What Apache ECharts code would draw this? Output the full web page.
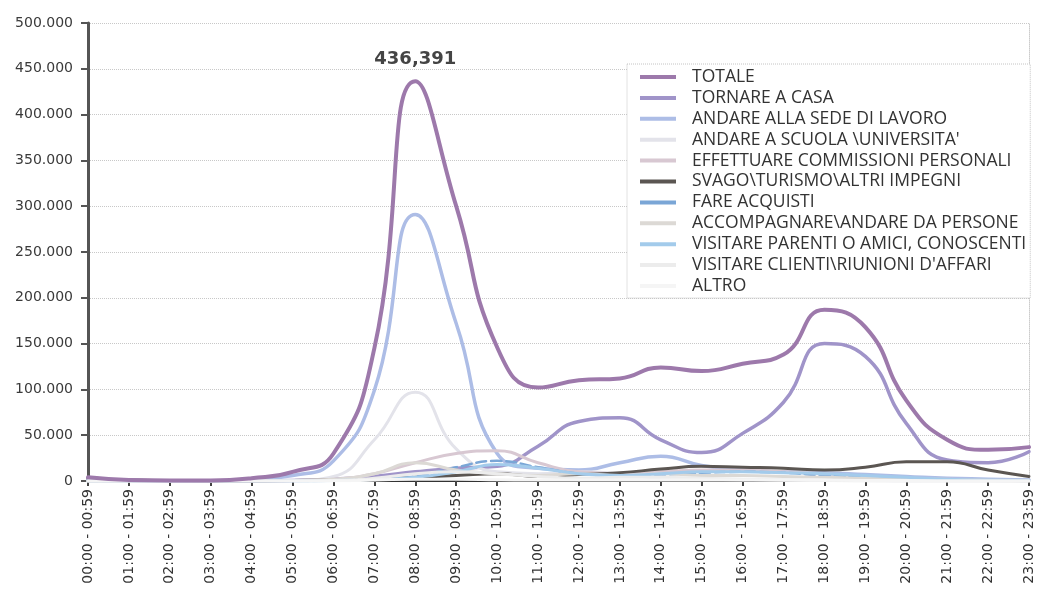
<!DOCTYPE html>
<html>
<head>
<meta charset="utf-8">
<script src="https://cdn.jsdelivr.net/npm/echarts@6/dist/echarts.min.js"></script>
<style>
  html, body { margin: 0; padding: 0; background: #ffffff; }
  #chart { width: 1037px; height: 599px; }
</style>
</head>
<body>
<div id="chart"></div>
<script>
// Hourly time slots
const fasce = [
  '00:00 - 00:59', '01:00 - 01:59', '02:00 - 02:59', '03:00 - 03:59',
  '04:00 - 04:59', '05:00 - 05:59', '06:00 - 06:59', '07:00 - 07:59',
  '08:00 - 08:59', '09:00 - 09:59', '10:00 - 10:59', '11:00 - 11:59',
  '12:00 - 12:59', '13:00 - 13:59', '14:00 - 14:59', '15:00 - 15:59',
  '16:00 - 16:59', '17:00 - 17:59', '18:00 - 18:59', '19:00 - 19:59',
  '20:00 - 20:59', '21:00 - 21:59', '22:00 - 22:59', '23:00 - 23:59'
];

// Trips per hour, by purpose
const totale        = [4000, 1000, 500, 500, 3000, 10000, 30000, 145000, 436391, 300000, 146000, 102000, 110000, 112000, 124000, 120000, 128000, 138000, 187000, 168000, 88000, 45000, 34000, 37000];
const tornareCasa   = [2000, 500, 0, 0, 0, 500, 2000, 5000, 10000, 14000, 16000, 38000, 65000, 69000, 45000, 31000, 52000, 86000, 150000, 136000, 63000, 23000, 20000, 32000];
const sedeLavoro    = [1000, 500, 0, 0, 2000, 6000, 22000, 99000, 291000, 172000, 30000, 14000, 12000, 20000, 27000, 17000, 12000, 10000, 9000, 7000, 5000, 3000, 2000, 1000];
const scuola        = [0, 0, 0, 0, 0, 500, 5000, 45000, 97000, 35000, 10000, 8000, 10000, 8000, 3000, 2000, 1500, 1000, 500, 500, 0, 0, 0, 0];
const commissioni   = [0, 0, 0, 0, 0, 500, 2000, 8000, 20000, 30000, 33000, 20000, 10000, 8000, 10000, 12000, 12000, 10000, 8000, 5000, 3000, 2000, 1000, 500];
const svago         = [3000, 1000, 500, 0, 0, 500, 1000, 2000, 4000, 6000, 8000, 5000, 7000, 9000, 13000, 16000, 15000, 14000, 12000, 15000, 21000, 21000, 12000, 5000];
const acquisti      = [0, 0, 0, 0, 0, 0, 500, 2000, 5000, 15000, 22000, 15000, 8000, 6000, 7000, 9000, 10000, 9000, 6000, 4000, 2000, 1000, 500, 0];
const accompagnare  = [0, 0, 0, 0, 0, 500, 2000, 8000, 20000, 12000, 8000, 6000, 8000, 6000, 8000, 6000, 6000, 5000, 4000, 3000, 2000, 1000, 500, 0];
const parenti       = [0, 0, 0, 0, 0, 0, 500, 1500, 4000, 10000, 18000, 14000, 8000, 6000, 8000, 10000, 10000, 9000, 8000, 6000, 4000, 2000, 1000, 500];
const clienti       = [0, 0, 0, 0, 0, 0, 500, 3000, 8000, 10000, 8000, 5000, 3000, 4000, 4000, 3000, 2000, 1000, 500, 0, 0, 0, 0, 0];
const altro         = [0, 0, 0, 0, 0, 0, 200, 1000, 2000, 2000, 1500, 1000, 1000, 1000, 1000, 1000, 1000, 1000, 1000, 500, 500, 0, 0, 0];

const yTicks = { min: 0, max: 500000, step: 50000 };
const peakIndex = 8;

const withDots = v => String(v).replace(/\B(?=(\d{3})+(?!\d))/g, '.');
const withCommas = v => String(v).replace(/\B(?=(\d{3})+(?!\d))/g, ',');

function lineSeries(name, values, color, width, type) {
  return {
    name: name,
    type: 'line',
    data: values.slice(),
    smooth: 0.5,
    smoothConstraint: false,
    symbol: 'none',
    showSymbol: true,
    lineStyle: { color: color, width: width, type: type || 'solid', cap: 'round', join: 'round' },
    itemStyle: { color: color },
    emphasis: { disabled: true },
    z: 2
  };
}

const series = [
  lineSeries('TOTALE', totale, '#9d79ab', 4),
  lineSeries('TORNARE A CASA', tornareCasa, '#a094c9', 3.5),
  lineSeries('ANDARE ALLA SEDE DI LAVORO', sedeLavoro, '#adbde6', 3.5),
  lineSeries('ANDARE A SCUOLA \\UNIVERSITA\'', scuola, '#e3e3ea', 3),
  lineSeries('EFFETTUARE COMMISSIONI PERSONALI', commissioni, '#d8c8d2', 3),
  lineSeries('SVAGO\\TURISMO\\ALTRI IMPEGNI', svago, '#5b5652', 3),
  lineSeries('FARE ACQUISTI', acquisti, '#7aa6d6', 2.5, 'dashed'),
  lineSeries('ACCOMPAGNARE\\ANDARE DA PERSONE', accompagnare, '#dcd9d5', 3),
  lineSeries('VISITARE PARENTI O AMICI, CONOSCENTI', parenti, '#a3cbeb', 3),
  lineSeries('VISITARE CLIENTI\\RIUNIONI D\'AFFARI', clienti, '#ececec', 3),
  lineSeries('ALTRO', altro, '#f5f5f5', 3)
];

// Peak value label on the total
series[0].z = 5;
series[0].data[peakIndex] = {
  value: totale[peakIndex],
  symbol: 'circle',
  symbolSize: 1,
  itemStyle: { opacity: 0 },
  label: {
    show: true,
    position: 'top',
    distance: 12,
    formatter: p => withCommas(p.value),
    fontFamily: 'DejaVu Sans',
    fontWeight: 'bold',
    fontSize: 18,
    color: '#444444',
    opacity: 1
  }
};

const chart = echarts.init(document.getElementById('chart'), null, { renderer: 'canvas' });
chart.setOption({
  animation: false,
  backgroundColor: '#ffffff',
  grid: { left: 88, right: 8, top: 23, bottom: 118, containLabel: false },
  legend: {
    orient: 'vertical',
    left: 627,
    top: 64,
    width: 410,
    padding: [4, 4, 3, 13],
    backgroundColor: '#ffffff',
    borderColor: '#c4c4c4',
    borderWidth: 1,
    borderType: 'dotted',
    icon: 'rect',
    itemWidth: 36,
    itemHeight: 4,
    itemGap: 2.9,
    selectedMode: false,
    textStyle: {
      fontFamily: 'Open Sans',
      fontSize: 17.5,
      lineHeight: 16,
      color: '#333333',
      padding: [0, 0, 0, 11]
    },
    data: series.map(s => s.name)
  },
  xAxis: {
    type: 'category',
    data: fasce,
    boundaryGap: false,
    axisLine: { show: true, lineStyle: { color: '#333333', width: 2 } },
    axisTick: { show: true, length: 5, lineStyle: { color: '#444444', width: 2 } },
    axisLabel: {
      rotate: 90,
      margin: 8,
      interval: 0,
      fontFamily: 'DejaVu Sans',
      fontSize: 14,
      color: '#333333'
    },
    splitLine: { show: false }
  },
  yAxis: [{
    type: 'value',
    min: yTicks.min,
    max: yTicks.max,
    interval: yTicks.step,
    axisLine: { show: true, lineStyle: { color: '#555555', width: 3 } },
    axisTick: { show: true, length: 7, lineStyle: { color: '#555555', width: 2 } },
    axisLabel: {
      margin: 15,
      formatter: v => withDots(v),
      fontFamily: 'DejaVu Sans',
      fontSize: 14,
      color: '#3a3a3a'
    },
    splitLine: { show: true, lineStyle: { color: '#c8c8c8', width: 1, type: 'dotted' } }
  }, {
    type: 'value',
    position: 'right',
    min: yTicks.min,
    max: yTicks.max,
    interval: yTicks.step,
    axisLine: { show: true, lineStyle: { color: '#cccccc', width: 1, type: 'dotted' } },
    axisTick: { show: false },
    axisLabel: { show: false },
    splitLine: { show: false }
  }],
  series: series
});
</script>
</body>
</html>
